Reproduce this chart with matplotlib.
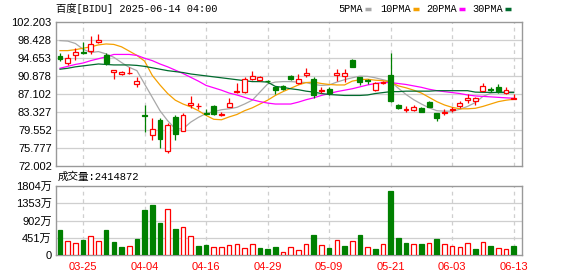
import matplotlib
matplotlib.use("Agg")
import matplotlib.pyplot as plt
from matplotlib.lines import Line2D

plt.rcParams["font.family"] = ["Liberation Sans", "Noto Sans CJK SC", "DejaVu Sans"]
MONO = ["Liberation Mono", "Noto Sans CJK SC", "DejaVu Sans"]

# --- data ------------------------------------------------------------------
dates = ["03-20", "03-21", "03-24", "03-25", "03-26", "03-27", "03-28", "03-31",
         "04-01", "04-02", "04-03", "04-04", "04-07", "04-08", "04-09", "04-10",
         "04-11", "04-14", "04-15", "04-16", "04-17", "04-21", "04-22", "04-23",
         "04-24", "04-25", "04-28", "04-29", "04-30", "05-01", "05-02", "05-05",
         "05-06", "05-07", "05-08", "05-09", "05-12", "05-13", "05-14", "05-15",
         "05-16", "05-19", "05-20", "05-21", "05-22", "05-23", "05-27", "05-28",
         "05-29", "05-30", "06-02", "06-03", "06-04", "06-05", "06-06", "06-09",
         "06-10", "06-11", "06-12", "06-13"]

opens = [95.0, 93.67, 95.28, 96.0, 96.05, 98.0, 95.35, 91.65, 91.3, 91.5,
         89.2, 82.7, 78.5, 81.72, 75.22, 82.21, 79.41, 84.8, 84.55, 83.2,
         84.65, 82.8, 84.3, 87.5, 87.58, 90.3, 90.05, 89.9, 88.5, 88.8,
         90.9, 89.47, 91.0, 90.19, 87.7, 88.1, 91.0, 90.9, 94.2, 90.6,
         89.95, 87.94, 89.45, 91.1, 84.8, 83.85, 83.75, 84.1, 85.5, 83.2,
         83.2, 83.8, 84.6, 85.9, 85.7, 87.8, 88.05, 88.6, 87.25, 86.1]
highs = [95.7, 95.5, 96.75, 97.95, 99.34, 99.69, 95.77, 92.07, 92.0, 92.7,
         90.74, 84.8, 82.07, 82.07, 81.09, 82.63, 83.19, 86.68, 85.15, 84.0,
         84.8, 83.3, 86.2, 89.5, 90.6, 92.0, 90.9, 90.1, 88.6, 89.0,
         91.0, 91.3, 92.5, 90.73, 88.6, 88.63, 92.3, 92.3, 94.4, 90.7,
         90.3, 89.62, 89.8, 95.64, 85.1, 84.6, 84.8, 84.3, 85.7, 83.2,
         83.9, 84.4, 85.6, 87.1, 86.4, 89.35, 88.5, 89.2, 88.5, 87.1]
lows = [94.1, 93.25, 94.3, 95.5, 95.49, 97.87, 93.18, 90.18, 91.0, 91.2,
        88.5, 79.13, 77.45, 75.78, 74.73, 77.45, 79.27, 84.17, 83.95, 82.6,
        82.6, 82.5, 84.3, 87.4, 87.38, 90.04, 89.9, 89.5, 87.1, 88.0,
        90.0, 89.2, 90.73, 86.2, 87.3, 86.9, 89.83, 89.7, 92.7, 89.0,
        89.3, 87.67, 89.3, 85.49, 83.9, 83.4, 83.45, 83.3, 84.3, 81.5,
        82.7, 83.4, 84.1, 85.15, 84.9, 87.8, 87.6, 87.4, 87.1, 86.0]
closes = [94.4, 94.65, 95.98, 95.8, 97.59, 98.5, 93.53, 92.07, 91.8, 91.6,
          89.9, 82.5, 79.76, 77.66, 80.53, 78.72, 82.63, 85.29, 84.65, 83.0,
          82.85, 82.95, 85.15, 87.7, 90.19, 90.8, 90.67, 89.8, 87.9, 88.2,
          90.2, 90.3, 91.6, 86.9, 87.85, 87.25, 91.6, 91.5, 92.8, 89.7,
          89.85, 89.35, 89.55, 85.6, 84.1, 83.95, 84.3, 83.4, 84.45, 82.1,
          83.35, 84.0, 85.15, 86.3, 86.2, 88.78, 87.95, 87.75, 88.0, 86.3]

ma5 = [98.3, 98.2, 97.7, 96.5, 95.8, 96.0, 95.5, 94.8, 93.7, 92.7,
       92.0, 89.2, 86.4, 83.6, 81.5, 79.8, 79.8, 81.2, 82.2, 83.0,
       83.4, 83.8, 84.0, 84.3, 85.0, 85.8, 87.5, 89.2, 89.6, 89.7,
       89.7, 89.6, 89.5, 89.1, 88.9, 89.0, 89.6, 90.1, 90.5, 90.85,
       90.8, 90.5, 90.1, 89.7, 88.3, 87.0, 85.9, 85.0, 84.2, 83.6,
       83.5, 83.5, 83.9, 84.5, 85.3, 86.6, 87.25, 87.55, 87.6, 87.6]
ma10 = [96.2, 96.2, 96.4, 96.7, 97.0, 97.4, 97.6, 97.5, 97.0, 96.1,
        95.2, 94.0, 91.0, 89.0, 87.2, 85.8, 85.0, 84.4, 83.6, 82.6,
        81.8, 81.7, 82.3, 82.8, 83.6, 84.2, 85.0, 85.8, 86.8, 87.6,
        88.3, 89.0, 89.5, 89.6, 89.3, 89.1, 89.0, 89.0, 89.8, 90.1,
        90.2, 90.0, 89.9, 89.6, 88.8, 88.4, 87.9, 87.3, 86.4, 85.5,
        84.8, 84.3, 84.0, 84.0, 84.1, 84.5, 85.0, 85.5, 85.8, 86.0]
ma20 = [92.5, 92.9, 93.3, 93.6, 94.1, 94.5, 94.9, 95.4, 95.4, 95.4,
        95.2, 94.6, 94.1, 93.4, 92.8, 92.1, 91.4, 90.6, 89.8, 88.9,
        88.4, 87.9, 87.3, 86.9, 86.4, 85.9, 85.5, 85.2, 85.0, 85.0,
        85.0, 85.4, 85.9, 86.3, 86.8, 87.2, 87.6, 87.9, 88.2, 88.6,
        89.0, 89.3, 89.5, 89.5, 89.3, 89.1, 88.8, 88.5, 88.1, 87.8,
        87.6, 87.4, 87.2, 86.9, 86.7, 86.6, 86.5, 86.4, 86.3, 86.2]
ma30 = [92.3, 92.5, 92.8, 93.0, 93.2, 93.4, 93.3, 93.2, 93.2, 93.2,
        93.1, 92.9, 92.6, 92.3, 92.0, 91.8, 91.6, 91.3, 91.1, 90.9,
        90.7, 90.5, 90.3, 90.1, 89.9, 89.7, 89.7, 89.6, 88.7, 88.5,
        88.2, 88.0, 87.7, 87.5, 87.2, 87.0, 86.9, 86.8, 86.8, 86.8,
        86.9, 87.2, 87.4, 87.6, 87.6, 87.7, 87.7, 87.7, 87.7, 87.8,
        87.8, 87.8, 87.8, 87.8, 87.5, 87.45, 87.45, 87.4, 87.4, 87.4]

# volume in 万 shares; vol_up: 1 = red hollow bar, 0 = green filled bar
vols = [654, 366, 305, 392, 488, 366, 654, 340, 209, 227,
        418, 1177, 1307, 837, 1194, 680, 723, 488, 235, 253,
        200, 200, 253, 288, 183, 288, 183, 157, 209, 70,
        200, 131, 288, 523, 261, 192, 392, 235, 366, 523,
        200, 157, 288, 1682, 444, 314, 288, 288, 314, 418,
        288, 235, 200, 314, 157, 340, 235, 183, 157, 241.5]
vol_up = [0, 1, 1, 0, 1, 1, 0, 0, 0, 1,
          0, 0, 0, 0, 1, 0, 1, 1, 0, 0,
          1, 1, 1, 1, 1, 1, 0, 0, 0, 1,
          1, 1, 1, 0, 1, 0, 1, 0, 1, 0,
          1, 0, 1, 0, 0, 0, 1, 0, 1, 0,
          1, 1, 1, 1, 0, 1, 0, 1, 1, 0]

price_ticks = ["72.002", "75.777", "79.552", "83.327", "87.102",
               "90.878", "94.653", "98.428", "102.203"]
vol_ticks = [0, 451, 902, 1353, 1804]
vol_tick_labels = ["0", "451万", "902万", "1353万", "1804万"]
label_every = 8
first_label = 3

# --- styling ---------------------------------------------------------------
RED = "#ff0000"
GREEN = "#008000"
GRID = "#cfcfcf"
FRAME = "#999999"
MA_COLORS = ["#a8a8a8", "#f5a000", "#ff00ff", "#006b2e"]
MA_NAMES = ["5PMA", "10PMA", "20PMA", "30PMA"]
# legend layout in pixels: text left edge, swatch left edge
LEG_TEXT_X = [338, 380, 426, 472]
LEG_SWATCH_X = [365, 413, 459, 505]

W, H = 578, 276
fig = plt.figure(figsize=(W / 100, H / 100), dpi=100)
fig.patch.set_facecolor("white")


def fx(px):
    return px / W


def fy(py):
    return 1 - py / H


ax = fig.add_axes([fx(56), fy(166), fx(522) - fx(56), fy(22) - fy(166)])
axv = fig.add_axes([fx(56), fy(255), fx(522) - fx(56), fy(186) - fy(255)])

n = len(dates)
xs = list(range(n))
xlim = (-0.52, n + 0.08)
label_idx = list(range(first_label, n, label_every))

for a in (ax, axv):
    a.set_xlim(*xlim)
    for s in a.spines.values():
        s.set_color(FRAME)
        s.set_linewidth(1.0)
    a.tick_params(length=0, labelsize=8, pad=3)
    for i in label_idx:
        a.axvline(i, color=GRID, lw=0.9, ls=(0, (3, 3)), zorder=0)

# price panel
ptick_vals = [float(t) for t in price_ticks]
ax.set_ylim(ptick_vals[0], ptick_vals[-1])
ax.set_yticks(ptick_vals)
ax.set_yticklabels(price_ticks)
ax.set_xticks([])
for v in ptick_vals[1:-1]:
    ax.axhline(v, color=GRID, lw=0.9, zorder=0)

body_w = 0.64
for i in xs:
    o, h, l, c = opens[i], highs[i], lows[i], closes[i]
    up = c >= o
    col = RED if up else GREEN
    ax.vlines(i, l, h, color=col, lw=0.9, zorder=3)
    bottom = min(o, c)
    height = max(abs(c - o), 0.05)
    ax.bar(i, height, bottom=bottom, width=body_w,
           facecolor="white" if up else GREEN, edgecolor=col,
           linewidth=0.9, zorder=4)

for vals, col in zip([ma5, ma10, ma20, ma30], MA_COLORS):
    ax.plot(xs, vals, color=col, lw=0.9, zorder=2)

# volume panel
axv.set_ylim(0, vol_ticks[-1])
axv.set_yticks(vol_ticks)
axv.set_yticklabels(vol_tick_labels)
for v in vol_ticks[1:-1]:
    axv.axhline(v, color=GRID, lw=0.9, zorder=0)
for i in xs:
    up = vol_up[i]
    axv.bar(i, vols[i], width=0.6,
            facecolor="white" if up else GREEN,
            edgecolor=RED if up else GREEN, linewidth=0.9, zorder=3)
axv.set_xticks(label_idx)
axv.set_xticklabels([dates[i] for i in label_idx], color=RED, fontsize=8)
axv.tick_params(axis="x", pad=5)

# header texts
fig.text(fx(56), fy(9), "百度[BIDU] 2025-06-14 04:00", fontsize=7.4,
         family=MONO, va="center", ha="left")
fig.text(fx(58), fy(177), "成交量:2414872", fontsize=7.6, family=MONO,
         va="center", ha="left")

# legend row
for tx, sx, name, col in zip(LEG_TEXT_X, LEG_SWATCH_X, MA_NAMES, MA_COLORS):
    fig.text(fx(tx), fy(9), name, fontsize=7.4, family=MONO,
             va="center", ha="left")
    fig.add_artist(Line2D([fx(sx), fx(sx + 6)], [fy(9), fy(9)],
                          color=col, lw=2.5, solid_capstyle="butt"))

fig.savefig("out.png", dpi=100, facecolor="white")
